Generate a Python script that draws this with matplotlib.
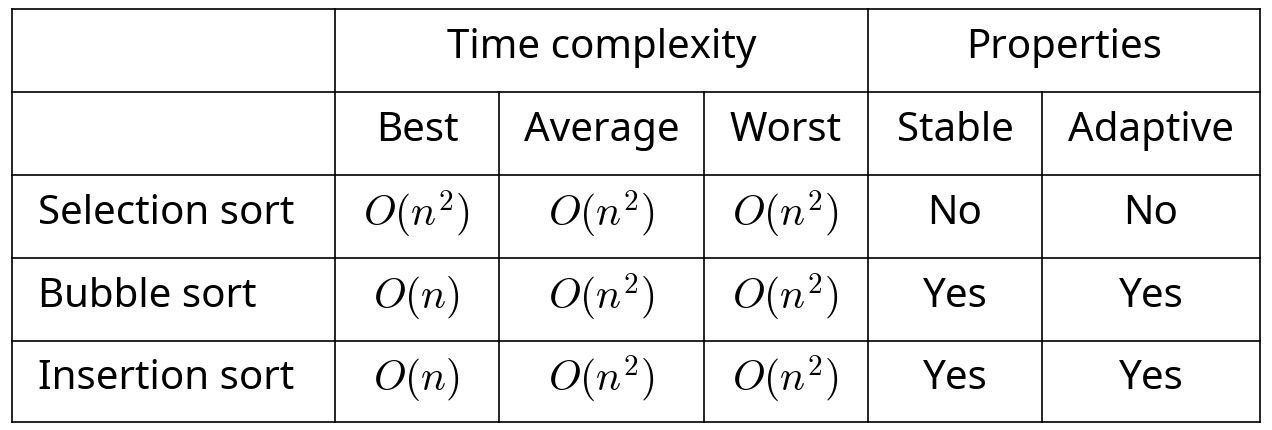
import matplotlib
matplotlib.use("Agg")
import matplotlib.pyplot as plt

plt.rcParams['font.family'] = ['Noto Sans', 'DejaVu Sans']
plt.rcParams['mathtext.fontset'] = 'cm'

groups = ["Time complexity", "Properties"]
columns = ["Best", "Average", "Worst", "Stable", "Adaptive"]
algorithms = ["Selection sort", "Bubble sort", "Insertion sort"]
cells = [
    [r"$O(n^2)$", r"$O(n^2)$", r"$O(n^2)$", "No", "No"],
    [r"$O(n)$", r"$O(n^2)$", r"$O(n^2)$", "Yes", "Yes"],
    [r"$O(n)$", r"$O(n^2)$", r"$O(n^2)$", "Yes", "Yes"],
]

xs = [12, 335, 499, 704, 868, 1042, 1260]
ys = [10, 93, 176, 259, 342, 423]

fig = plt.figure(figsize=(12.72, 4.31), dpi=100)
ax = fig.add_axes([0, 0, 1, 1])
ax.set_xlim(0, 1272)
ax.set_ylim(431, 0)
ax.axis('off')

lw = 1.2
for y in ys:
    ax.plot([xs[0], xs[-1]], [y, y], color='black', lw=lw)
ax.plot([xs[0], xs[0]], [ys[0], ys[-1]], color='black', lw=lw)
ax.plot([xs[-1], xs[-1]], [ys[0], ys[-1]], color='black', lw=lw)
ax.plot([xs[1], xs[1]], [ys[0], ys[-1]], color='black', lw=lw)
ax.plot([xs[4], xs[4]], [ys[0], ys[-1]], color='black', lw=lw)
for i in (2, 3, 5):
    ax.plot([xs[i], xs[i]], [ys[1], ys[-1]], color='black', lw=lw)

fs = 29
off = -3
ax.text((xs[1] + xs[4]) / 2, (ys[0] + ys[1]) / 2 + off, groups[0], ha='center', va='center', fontsize=fs)
ax.text((xs[4] + xs[6]) / 2, (ys[0] + ys[1]) / 2 + off, groups[1], ha='center', va='center', fontsize=fs)
for j, c in enumerate(columns):
    ax.text((xs[j + 1] + xs[j + 2]) / 2, (ys[1] + ys[2]) / 2 + off, c, ha='center', va='center', fontsize=fs)
for i, a in enumerate(algorithms):
    yc = (ys[i + 2] + ys[i + 3]) / 2 + off
    ax.text(38, yc, a, ha='left', va='center', fontsize=fs)
    for j, v in enumerate(cells[i]):
        ax.text((xs[j + 1] + xs[j + 2]) / 2, yc, v, ha='center', va='center',
                fontsize=30 if v.startswith('$') else fs)

fig.savefig("out.png", dpi=100)
